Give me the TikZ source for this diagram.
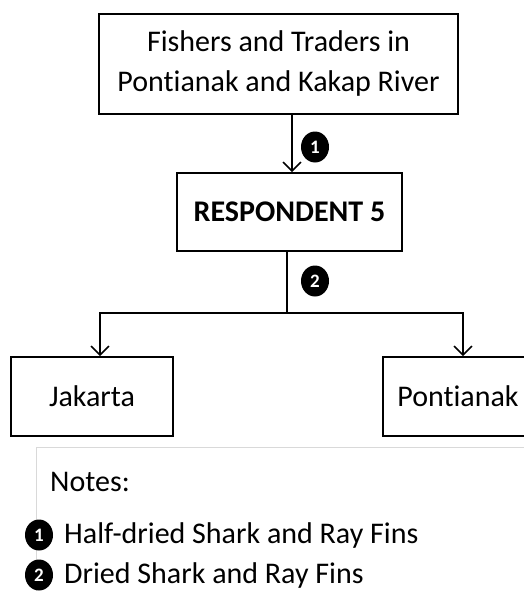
\documentclass[tikz,border=0pt]{standalone}
\usepackage{fontspec}
\setmainfont{Carlito}[Ligatures={NoCommon,NoRare}]
\usetikzlibrary{arrows.meta,calc,shapes.geometric}
\begin{document}
\begin{tikzpicture}[x=1pt,y=1pt,
  box/.style={draw=black,line width=1.6pt,inner sep=0pt,font=\fontsize{30}{40}\selectfont,align=center},
  badge/.style={ellipse,fill=black,inner sep=0pt,minimum width=28pt,minimum height=31pt,text=white,font=\fontsize{19}{19}\selectfont\bfseries},
  flow/.style={line width=1.6pt,-{Straight Barb[length=9pt,width=18pt,line width=1.6pt]}},
  plain/.style={line width=1.6pt},
  note/.style={anchor=west,inner sep=0pt,font=\fontsize{30}{30}\selectfont}]
\useasboundingbox (0,0) rectangle (524,-591);
\clip (0,0) rectangle (524,-591);
% notes panel frame (drawn first, under the markers)
\draw[black!15,line width=0.8pt] (36,-700) -- (36,-447) -- (700,-447);
% boxes of the chain
\node[box,minimum width=359pt,minimum height=100pt] (src) at (278.5,-64) {Fishers and Traders in\\Pontianak and Kakap River};
\node[box,minimum width=225pt,minimum height=78pt,font=\fontsize{30}{30}\selectfont\bfseries] (resp) at (289.5,-212) {RESPONDENT 5};
\node[box,minimum width=162pt,minimum height=79pt] (jkt) at (92,-396.5) {Jakarta};
\node[box,minimum width=180pt,minimum height=79pt] (ptk) at (473,-396.5) {};
\node[inner sep=0pt,font=\fontsize{30}{30}\selectfont] (ptklabel) at (458,-396.5) {Pontianak};
% flows
\coordinate (split) at (287,-313);
\coordinate (left) at (100,-313);
\coordinate (right) at (463,-313);
\draw[flow] (src.south -| 292,0) -- (resp.north -| 292,0);
\draw[plain] (resp.south -| split) -- (split);
\draw[flow] (split) -- (left) -- (jkt.north -| left);
\draw[flow] (split) -- (right) -- (ptk.north -| right);
\node[badge] (b1) at (315,-147) {1};
\node[badge] (b2) at (315,-281) {2};
% notes
\node[note] (notes) at (50,-482) {Notes:};
\node[badge] (n1) at (39,-535) {1};
\node[badge] (n2) at (39,-575) {2};
\node[note] (t1) at (64,-535) {Half-dried Shark and Ray Fins};
\node[note] (t2) at (64,-575) {Dried Shark and Ray Fins};
\end{tikzpicture}
\end{document}
